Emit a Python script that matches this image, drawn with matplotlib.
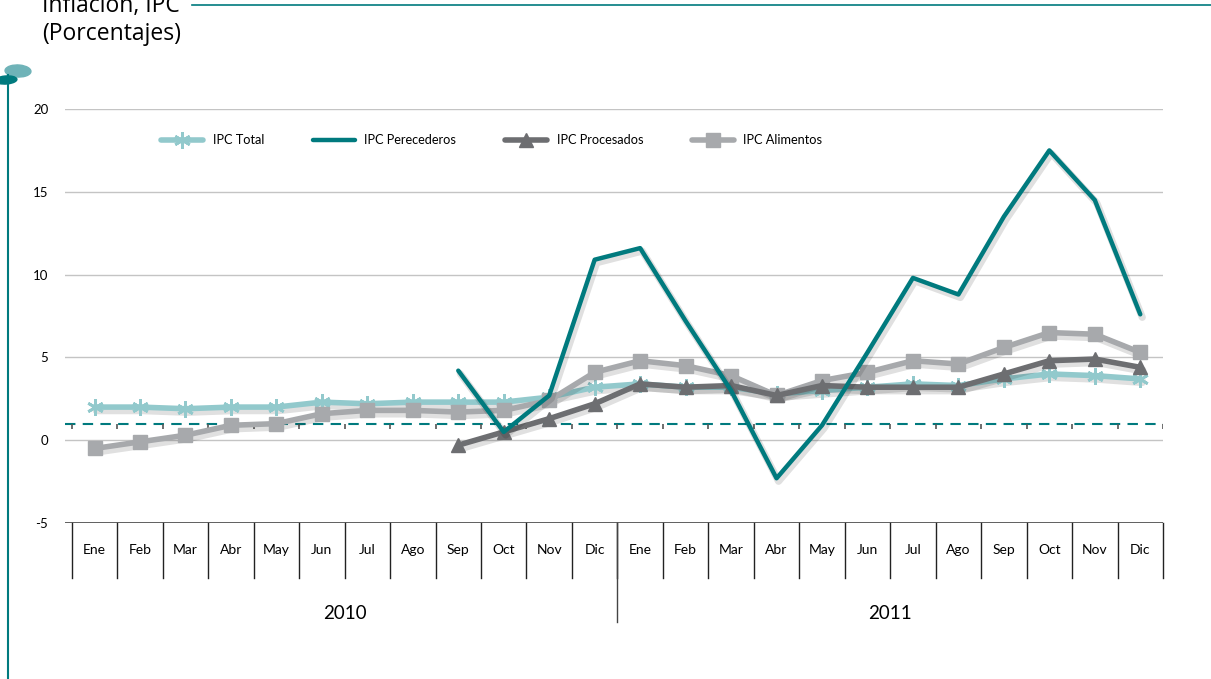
import matplotlib
matplotlib.use("Agg")
import matplotlib.pyplot as plt
import matplotlib.transforms as mtransforms
from matplotlib.patches import Ellipse
import numpy as np

plt.rcParams["font.family"] = ["Lato", "DejaVu Sans"]
plt.rcParams["axes.unicode_minus"] = False

MONTHS = ["Ene", "Feb", "Mar", "Abr", "May", "Jun", "Jul", "Ago", "Sep", "Oct", "Nov", "Dic"]
YEARS = ["2010", "2011"]
LABELS = MONTHS * 2

ipc_total = [2.0, 2.0, 1.9, 2.0, 2.0, 2.3, 2.2, 2.3, 2.3, 2.3, 2.6, 3.2,
             3.4, 3.2, 3.2, 2.8, 3.0, 3.2, 3.4, 3.3, 3.7, 4.0, 3.9, 3.7]
ipc_perecederos = [None] * 8 + [4.2, 0.5, 2.7, 10.9,
                                11.6, 7.2, 3.0, -2.3, 0.9, 5.3, 9.8, 8.8, 13.5, 17.5, 14.5, 7.6]
ipc_procesados = [None] * 8 + [-0.3, 0.5, 1.3, 2.2,
                               3.4, 3.2, 3.3, 2.7, 3.3, 3.2, 3.2, 3.2, 4.0, 4.8, 4.9, 4.4]
ipc_alimentos = [-0.5, -0.1, 0.3, 0.9, 1.0, 1.6, 1.8, 1.8, 1.7, 1.8, 2.4, 4.1,
                 4.8, 4.5, 3.9, 2.7, 3.6, 4.1, 4.8, 4.6, 5.6, 6.5, 6.4, 5.3]
meta = 1.0

TEAL = "#007a7e"
LTEAL = "#92c9cc"
DGRAY = "#6d6e71"
LGRAY = "#a7a9ac"

fig = plt.figure(figsize=(12.11, 6.79), dpi=100)
ax = fig.add_axes([65 / 1211, (679 - 523) / 679, 1098 / 1211, 414 / 679])

x = np.arange(len(LABELS))


def arr(v):
    return np.array([np.nan if a is None else a for a in v], dtype=float)


shadow_tr = mtransforms.offset_copy(ax.transData, fig=fig, x=2, y=-3, units="dots")


def series(vals, color, lw, z, label, **mk):
    y = arr(vals)
    ax.plot(x, y, color="#000000", alpha=0.12, lw=lw + 2, transform=shadow_tr,
            zorder=z - 0.5, solid_capstyle="round")
    ax.plot(x, y, color=color, lw=lw, zorder=z, label=label, solid_capstyle="round", **mk)


series(ipc_total, LTEAL, 4, 3, "IPC Total", marker=(6, 2, 0), ms=12, mew=2)
series(ipc_alimentos, LGRAY, 4, 4, "IPC Alimentos", marker="s", ms=10)
series(ipc_procesados, DGRAY, 4, 5, "IPC Procesados", marker="^", ms=10)
series(ipc_perecederos, TEAL, 3.2, 6, "IPC Perecederos")

# target line with small ticks
ax.axhline(meta, color=TEAL, lw=1.5, ls=(0, (5, 3.5)), zorder=2)
ax.vlines(np.arange(-0.5, 24, 1), meta - 0.35, meta, color="#555555", lw=1.2, zorder=2)

ax.set_xlim(-0.65, 23.5)
ax.set_ylim(-5, 20)
ax.set_yticks([-5, 0, 5, 10, 15, 20])
ax.tick_params(axis="y", length=0, pad=12, labelsize=9.5)
ax.set_xticks([])
for s in ax.spines.values():
    s.set_visible(False)
for yv in [0, 5, 10, 15, 20]:
    ax.axhline(yv, color="#c4c4c4", lw=1, zorder=1)
ax.axhline(-5, color="#444444", lw=1.2, zorder=1)

# month table under the chart
for b in np.arange(-0.5, 24, 1):
    ax.plot([b, b], [-5, -8.3], color="#222222", lw=1, clip_on=False)
for i, m in enumerate(LABELS):
    ax.text(i, -6.65, m, ha="center", va="center", fontsize=10, clip_on=False)
ax.plot([11.5, 11.5], [-5, -11.0], color="#444444", lw=1, clip_on=False)
for k, yr in enumerate(YEARS):
    ax.text(5.5 + 12 * k, -10.45, yr, ha="center", va="center", fontsize=13.5, clip_on=False)

h, l = ax.get_legend_handles_labels()
order = [l.index(n) for n in ["IPC Total", "IPC Perecederos", "IPC Procesados", "IPC Alimentos"]]
ax.legend([h[i] for i in order], [l[i] for i in order], loc="center left",
          bbox_to_anchor=(0.077, 0.925), ncol=4, frameon=False,
          fontsize=9.2, handlelength=3.3, handletextpad=0.75, columnspacing=3.8)

# title and decorations
fig.text(42 / 1211, 1 - 12 / 679, "Inflación, IPC", fontsize=16.5, va="baseline",
         family=["Open Sans", "DejaVu Sans"])
fig.text(42 / 1211, 1 - 40 / 679, "(Porcentajes)", fontsize=16.5, va="baseline",
         family=["Open Sans", "DejaVu Sans"])
fig.add_artist(plt.Line2D([192 / 1211, 1], [1 - 5 / 679] * 2, color=TEAL, lw=1.2))
fig.add_artist(plt.Line2D([8 / 1211] * 2, [0, 1 - 75 / 679], color=TEAL, lw=1.5))
fig.add_artist(Ellipse((18 / 1211, 1 - 71 / 679), 26 / 1211, 12 / 679, angle=-10,
                       color="#6fb3b8", transform=fig.transFigure))
fig.add_artist(Ellipse((6 / 1211, 1 - 80 / 679), 22 / 1211, 8 / 679, angle=10,
                       color=TEAL, transform=fig.transFigure))

fig.savefig("out.png", dpi=100)
